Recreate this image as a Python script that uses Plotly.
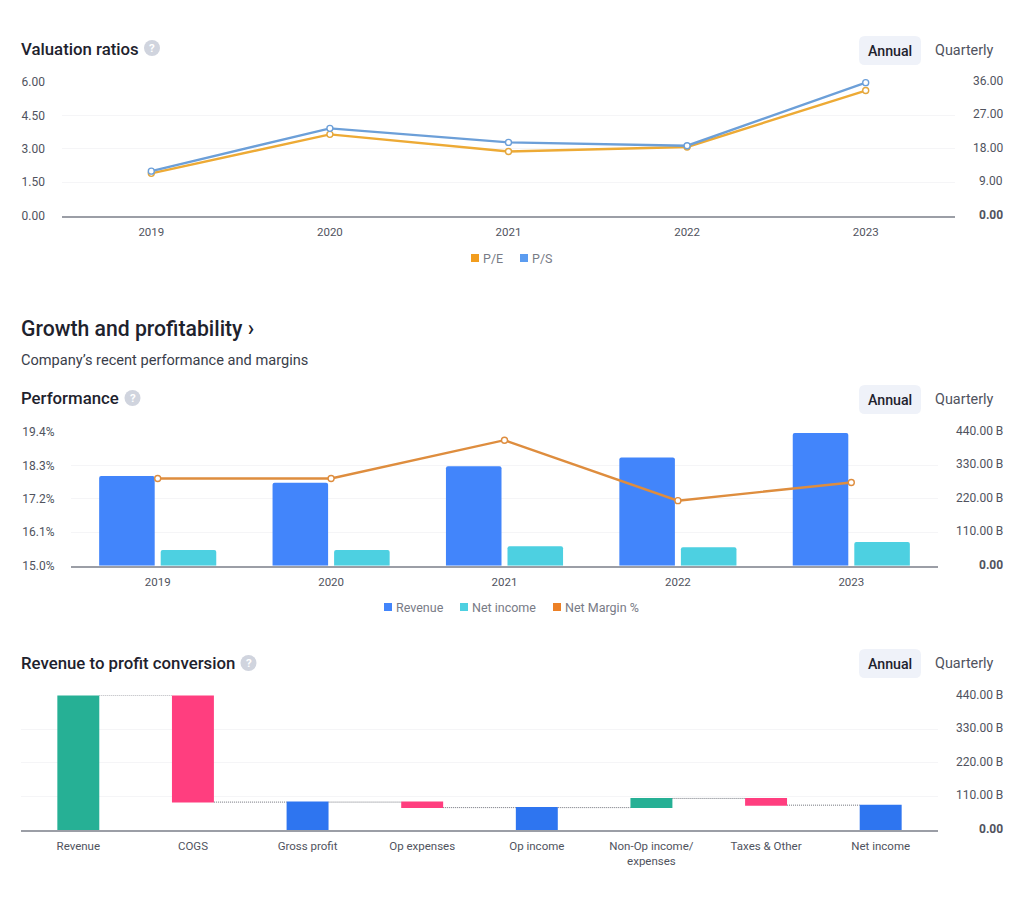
import plotly.graph_objects as go

years = ["2019", "2020", "2021", "2022", "2023"]
pe_values = [11.4, 21.9, 17.3, 18.5, 33.7]
ps_values = [2.0, 3.92, 3.29, 3.14, 5.97]
left1_vals = [0, 1.5, 3, 4.5, 6]
left1_text = ["0.00", "1.50", "3.00", "4.50", "6.00"]
right1_vals = [0, 9, 18, 27, 36]
right1_text = ["<b>0.00</b>", "9.00", "18.00", "27.00", "36.00"]

revenue = [295, 273, 327, 356, 437]
net_income = [52, 52, 64, 61, 78]
net_margin = [17.87, 17.87, 19.13, 17.14, 17.74]
left2_vals = [15.0, 16.1, 17.2, 18.3, 19.4]
left2_text = ["15.0%", "16.1%", "17.2%", "18.3%", "19.4%"]
right_vals = [0, 110, 220, 330, 440]
right_text = ["<b>0.00</b>", "110.00 B", "220.00 B", "330.00 B", "440.00 B"]

steps = ["Revenue", "COGS", "Gross profit", "Op expenses", "Op income",
         "Non-Op income/<br>expenses", "Taxes & Other", "Net income"]
step_measure = ["relative", "relative", "total", "relative", "total", "relative", "relative", "total"]
step_values = [440, -349, 0, -18, 0, 30, -22, 0]

FONT = "Roboto"
DARK = "#1e222d"
TICK = "#50535e"
GRID = "#f5f5f7"
BASE = "#9b9ea6"
W, H = 1024, 913


def px(x):
    return x / W


def py(y):
    return 1 - y / H


def dom(y_top, y_bot):
    return [py(y_bot), py(y_top)]


def left_axis(vals, text, rng, domain, pos, overlay=None):
    d = dict(range=rng, domain=domain, tickmode="array", tickvals=vals, ticktext=text,
             anchor="free", position=pos, side="left", ticks="",
             showgrid=False, zeroline=False, showline=False,
             tickfont=dict(family=FONT, size=12, color=TICK), fixedrange=True)
    if overlay:
        d["overlaying"] = overlay
    return d


def right_axis(vals, rng, domain, anchor):
    return dict(range=rng, domain=domain, tickmode="array", tickvals=vals, side="right",
                anchor=anchor, ticks="", showticklabels=False, showgrid=True,
                gridcolor=GRID, gridwidth=1, zeroline=False, showline=False, fixedrange=True)


def xaxis(anchor, x0, x1, rng, labels):
    return dict(anchor=anchor, domain=[px(x0), px(x1)], type="category", range=rng,
                categoryorder="array", categoryarray=labels,
                showline=True, linecolor=BASE, linewidth=1.5, showgrid=False, zeroline=False,
                ticks="outside", tickcolor="rgba(0,0,0,0)", ticklen=5,
                tickfont=dict(family=FONT, size=11.5, color=TICK), fixedrange=True)


fig = go.Figure()

# Valuation ratios
fig.add_trace(go.Scatter(x=years, y=pe_values, name="P/E", xaxis="x", yaxis="y", mode="lines+markers",
                         line=dict(color="#edaa35", width=2.4),
                         marker=dict(size=6, color="#ffffff", line=dict(color="#e3a63c", width=1.4)),
                         cliponaxis=False, showlegend=False))
fig.add_trace(go.Scatter(x=years, y=ps_values, name="P/S", xaxis="x", yaxis="y2", mode="lines+markers",
                         line=dict(color="#6c9fd8", width=2.4),
                         marker=dict(size=6, color="#ffffff", line=dict(color="#6c9fd8", width=1.4)),
                         cliponaxis=False, showlegend=False))
# Performance
fig.add_trace(go.Bar(x=years, y=revenue, name="Revenue", xaxis="x2", yaxis="y3",
                     marker=dict(color="#4285fb", line_width=0), showlegend=False))
fig.add_trace(go.Bar(x=years, y=net_income, name="Net income", xaxis="x2", yaxis="y3",
                     marker=dict(color="#4dd0e1", line_width=0), showlegend=False))
fig.add_trace(go.Scatter(x=years, y=net_margin, name="Net Margin %", xaxis="x2", yaxis="y4", mode="lines+markers",
                         line=dict(color="#de8d3e", width=2.4),
                         marker=dict(size=6, color="#ffffff", line=dict(color="#de8d3e", width=1.4)),
                         cliponaxis=False, showlegend=False))
# Revenue to profit
fig.add_trace(go.Waterfall(x=steps, y=step_values, measure=step_measure, xaxis="x3", yaxis="y5",
                           increasing=dict(marker=dict(color="#26b095")),
                           decreasing=dict(marker=dict(color="#ff3e7f")),
                           totals=dict(marker=dict(color="#2e75f0")),
                           connector=dict(mode="between", line=dict(color="#70737c", width=1, dash="1px,1px")),
                           showlegend=False))

fig.update_layout(
    width=W, height=H, margin=dict(l=0, r=0, t=0, b=0, autoexpand=False), autosize=False,
    paper_bgcolor="#ffffff", plot_bgcolor="#ffffff",
    font=dict(family=FONT, color=TICK),
    barmode="group", bargap=0.29, bargroupgap=0.0976, barcornerradius=2, waterfallgap=0.634,
    xaxis=xaxis("y", 62, 955, [-0.5, 4.5], years),
    yaxis=right_axis(right1_vals, [0, 36], dom(82, 215.7), "x"),
    yaxis2=left_axis(left1_vals, left1_text, [0, 6], dom(82, 215.7), px(45), overlay="y"),
    xaxis2=xaxis("y3", 71, 938, [-0.5, 4.5], years),
    yaxis3=right_axis(right_vals, [0, 440], dom(432, 565.7), "x2"),
    yaxis4=left_axis(left2_vals, left2_text, [15, 19.4], dom(432, 565.7), px(54.5), overlay="y3"),
    xaxis3=xaxis("y5", 21, 938, [-0.5, 7.5], steps),
    yaxis5=right_axis(right_vals, [0, 440], dom(695.5, 829.9), "x3"),
)

ann = []
shapes = []


def text(x, y, s, size, color, weight="normal", anchor="left"):
    ann.append(dict(x=px(x), y=py(y), xref="paper", yref="paper", text=s, showarrow=False,
                    xanchor=anchor, yanchor="middle", borderpad=0, borderwidth=0,
                    font=dict(family=FONT, size=size, color=color, weight=weight)))


def right_labels(axis, vals, labels, x_right):
    for v, s in zip(vals, labels):
        ann.append(dict(x=px(x_right), y=v, xref="paper", yref=axis, text=s, showarrow=False,
                        xanchor="right", yanchor="middle", borderpad=0, borderwidth=0, yshift=1,
                        font=dict(family=FONT, size=12, color=TICK)))


def help_icon(cx, cy):
    r = 8
    shapes.append(dict(type="circle", xref="paper", yref="paper", x0=px(cx - r), x1=px(cx + r),
                       y0=py(cy + r), y1=py(cy - r), fillcolor="#d0d4de", line_width=0, layer="below"))
    text(cx, cy, "?", 11.5, "#ffffff", "bold", "center")


def pill(y0):
    x0, x1, y1, r = 859, 921, y0 + 29, 6

    def p(x, y):
        return f"{px(x)},{py(y)}"
    path = (f"M {p(x0 + r, y0)} L {p(x1 - r, y0)} Q {p(x1, y0)} {p(x1, y0 + r)} "
            f"L {p(x1, y1 - r)} Q {p(x1, y1)} {p(x1 - r, y1)} L {p(x0 + r, y1)} "
            f"Q {p(x0, y1)} {p(x0, y1 - r)} L {p(x0, y0 + r)} Q {p(x0, y0)} {p(x0 + r, y0)} Z")
    shapes.append(dict(type="path", xref="paper", yref="paper", path=path,
                       fillcolor="#eff2f9", line_width=0, layer="below"))
    text(890, y0 + 14.5, "Annual", 14.2, DARK, 500, "center")
    text(964.5, y0 + 14.5, "Quarterly", 14.4, TICK, "normal", "center")


def swatch(x, y, color, label):
    shapes.append(dict(type="rect", xref="paper", yref="paper", x0=px(x), x1=px(x + 8),
                       y0=py(y + 4), y1=py(y - 4), fillcolor=color, line_width=0))
    text(x + 12, y, label, 12.5, "#787b86")


text(21, 49, "Valuation ratios", 16.8, DARK, 500)
help_icon(152, 48)
pill(36)
swatch(471, 258, "#f29d1e", "P/E")
swatch(520, 258, "#5b9cf0", "P/S")
right_labels("y", right1_vals, right1_text, 1003)

text(21, 328.5, "Growth and profitability ›", 21.2, DARK, 500)
text(21, 359.5, "Company’s recent performance and margins", 14.6, "#3a3e4a")
text(21, 398, "Performance", 16.8, DARK, 500)
help_icon(132.5, 398)
pill(385)
swatch(384, 607, "#4285fb", "Revenue")
swatch(460, 607, "#4dd0e1", "Net income")
swatch(553, 607, "#ec8026", "Net Margin %")
right_labels("y3", right_vals, right_text, 1003)

text(21, 662.5, "Revenue to profit conversion", 16.8, DARK, 500)
help_icon(248.5, 663)
pill(649)
right_labels("y5", right_vals, right_text, 1003)

fig.update_layout(annotations=ann, shapes=shapes)
fig.write_html("out.html", config={"displayModeBar": False},
               post_script="document.body.style.margin='0';document.body.style.overflow='hidden';")
